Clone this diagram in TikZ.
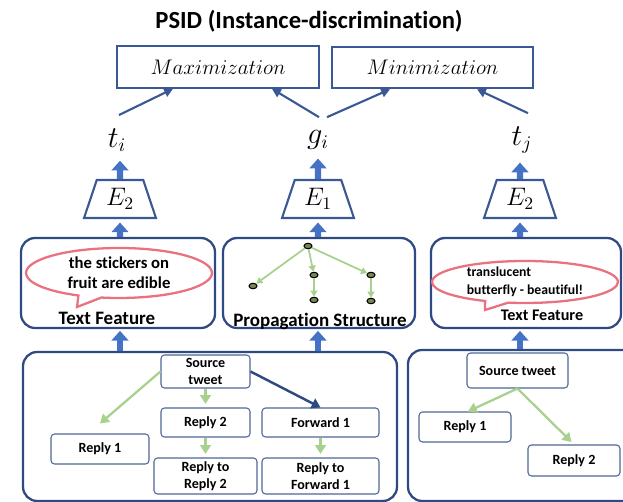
\documentclass[tikz,border=0pt]{standalone}
\usepackage{fontspec}
\setmainfont{Carlito}[Ligatures=NoCommon]
\usetikzlibrary{arrows.meta,shapes.geometric,shapes.callouts,positioning}
\definecolor{navy}{RGB}{47,74,130}
\definecolor{boxblue}{RGB}{58,88,150}
\definecolor{fatblue}{RGB}{68,114,196}
\definecolor{leafgreen}{RGB}{169,209,142}
\definecolor{bubblered}{RGB}{233,113,128}
\definecolor{nodefill}{RGB}{120,135,80}
\tikzset{
  panel/.style={draw=navy,line width=1.3pt,rounded corners=8pt,inner sep=0pt},
  goal/.style={draw=boxblue,line width=1.2pt,minimum height=0.83cm,font=\fontsize{12}{14}\selectfont},
  enc/.style={trapezium,draw=boxblue,line width=1.2pt,trapezium angle=70,trapezium stretches=true,
    minimum width=1.44cm,minimum height=0.76cm,inner sep=0pt,font=\fontsize{14}{16}\selectfont},
  lab/.style={inner sep=0pt,font=\fontsize{16}{18}\selectfont},
  msgbox/.style={draw=navy!85,line width=0.6pt,rounded corners=2pt,align=center,inner sep=0pt,
    font=\bfseries\fontsize{8}{9.6}\selectfont},
  bub/.style={ellipse callout,draw=bubblered,line width=1.3pt,inner sep=0pt},
  tnode/.style={ellipse,draw=black,fill=nodefill,line width=0.6pt,minimum width=0.16cm,minimum height=0.11cm,inner sep=0pt},
  fat/.style={fatblue,line width=3.6pt,-{Triangle[width=9.5pt,length=5.5pt]}},
  link/.style={boxblue,line width=1.2pt,-{Triangle[width=5pt,length=5pt]}},
  reply/.style={leafgreen,line width=1.3pt,-{Triangle[width=6pt,length=5pt]}},
  fwd/.style={navy,line width=1.4pt,-{Triangle[width=6pt,length=5pt]}},
  twig/.style={leafgreen,line width=1pt,-{Triangle[width=4pt,length=3.5pt]}},
  caption/.style={font=\bfseries\fontsize{10.8}{12}\selectfont}
}
\begin{document}
\begin{tikzpicture}[x=0.02cm,y=-0.02cm]
  \useasboundingbox (0,0) rectangle (623,502);

  \node[font=\bfseries\fontsize{14}{16}\selectfont] (title) at (309,21) {PSID (Instance-discrimination)};

  \node[goal,minimum width=4.04cm] (max) at (218,67) {$Maximization$};
  \node[goal,minimum width=4.02cm] (min) at (432.5,67.5) {$Minimization$};

  \node[lab] (ti) at (117,140) {$t_i$};
  \node[lab] (gi) at (318,140) {$g_i$};
  \node[lab] (tj) at (522,140) {$t_j$};

  \node[enc] (e2a) at (120,199) {$E_2$};
  \node[enc] (e1) at (318,199) {$E_1$};
  \node[enc] (e2b) at (520,199) {$E_2$};

  \draw[link] ([shift={(2,-13)}]ti.north) -- ([xshift=-0.9cm]max.south);
  \draw[link] ([shift={(1,-13)}]gi.north) -- ([xshift=1.08cm]max.south);
  \draw[link] ([shift={(9,-13)}]gi.north) -- ([xshift=-0.85cm]min.south);
  \draw[link] ([shift={(6,-13)}]tj.north) -- ([xshift=0.89cm]min.south);

  \node[panel,minimum width=3.88cm,minimum height=1.8cm] (txta) at (118,283) {};
  \node[panel,minimum width=3.84cm,minimum height=1.8cm] (prop) at (319,283) {};
  \node[panel,minimum width=3.8cm,minimum height=1.8cm] (txtb) at (526,283) {};
  \node[panel,minimum width=7.48cm,minimum height=2.98cm] (tree1) at (210,426.5) {};
  \node[panel,minimum width=5.2cm,minimum height=3.02cm] (tree2) at (538,425.5) {};

  \draw[fat,shorten >=5pt] (e2a.north) -- (ti.south -| e2a);
  \draw[fat,shorten >=5pt] (e1.north) -- (gi.south -| e1);
  \draw[fat,shorten >=5pt] (e2b.north) -- (tj.south -| e2b);
  \draw[fat,shorten >=2pt] (txta.north -| e2a) -- (e2a.south);
  \draw[fat,shorten >=2pt] (prop.north -| e1) -- (e1.south);
  \draw[fat,shorten >=2pt] (txtb.north -| e2b) -- (e2b.south);
  \draw[fat,shorten >=1pt] (tree1.north -| e2a) -- (txta.south -| e2a);
  \draw[fat,shorten >=1pt] (tree1.north -| e1) -- (prop.south -| e1);
  \draw[fat,shorten >=1pt] (tree2.north -| e2b) -- (txtb.south -| e2b);

  % text features
  \node[bub,minimum width=3.72cm,minimum height=1cm,callout absolute pointer={(77,307)},
    font=\bfseries\fontsize{9.5}{11.3}\selectfont,align=center] (saya) at (119,273) {the stickers on\\fruit are edible};
  \node[caption] (capa) at (107,318) {Text Feature};
  \node[bub,minimum width=3.72cm,minimum height=0.8cm,callout absolute pointer={(485,310)},
    font=\bfseries\fontsize{7.8}{10.2}\selectfont,align=left] (sayb) at (525,282) {translucent\\butterfly - beautiful!};
  \node[caption,font=\bfseries\fontsize{9.2}{11}\selectfont] (capb) at (542,315) {Text Feature};

  % propagation structure
  \node[tnode] (p0) at (308,246) {};
  \node[tnode] (p1) at (253,286) {};
  \node[tnode] (p2) at (314,275) {};
  \node[tnode] (p3) at (371,275) {};
  \node[tnode] (p4) at (314,300) {};
  \node[tnode] (p5) at (371,301) {};
  \draw[twig] (p0) -- (p1);
  \draw[twig] (p0) -- (p2);
  \draw[twig] (p0) -- (p3);
  \draw[twig] (p2) -- (p4);
  \draw[twig] (p3) -- (p5);
  \node[caption] (capp) at (320,321) {Propagation Structure};

  % source tree, left
  \node[msgbox,minimum width=1.78cm,minimum height=0.66cm] (src1) at (205.5,371.5) {Source\\tweet};
  \node[msgbox,minimum width=1.78cm,minimum height=0.58cm] (r2a) at (205.5,422.5) {Reply 2};
  \node[msgbox,minimum width=2.34cm,minimum height=0.58cm] (fw1) at (320.5,422.5) {Forward 1};
  \node[msgbox,minimum width=1.96cm,minimum height=0.6cm] (r1a) at (100,449) {Reply 1};
  \node[msgbox,minimum width=2.06cm,minimum height=0.72cm] (rr2) at (205.5,476) {Reply to\\Reply 2};
  \node[msgbox,minimum width=2.34cm,minimum height=0.72cm] (rf1) at (320.5,476) {Reply to\\Forward 1};
  \draw[reply] (src1.west) -- ([yshift=0.2cm]r1a.north);
  \draw[reply,shorten >=2pt] (src1.south) -- (r2a.north);
  \draw[reply,shorten >=2pt] (r2a.south) -- (rr2.north);
  \draw[reply,shorten >=2pt] (fw1.south) -- (rf1.north);
  \draw[fwd] (src1.east) -- (fw1.north);

  % source tree, right
  \node[msgbox,minimum width=2.02cm,minimum height=0.7cm] (src2) at (517.5,370.5) {Source tweet};
  \node[msgbox,minimum width=1.84cm,minimum height=0.6cm] (r1b) at (465,427) {Reply 1};
  \node[msgbox,minimum width=1.84cm,minimum height=0.62cm] (r2b) at (574,460.5) {Reply 2};
  \draw[reply] (src2.south) -- ([xshift=0.06cm]r1b.north);
  \draw[reply,shorten >=2pt] (src2.south) -- (r2b.north);
\end{tikzpicture}
\end{document}
